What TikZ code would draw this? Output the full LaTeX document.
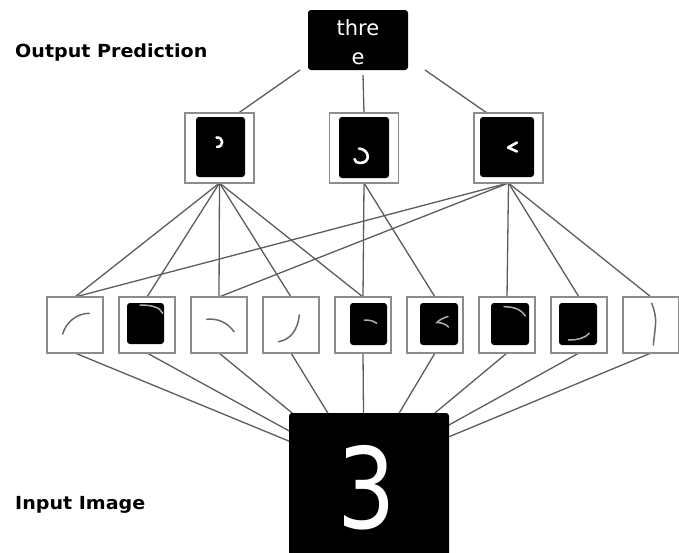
\documentclass[tikz,border=0pt]{standalone}
\usepackage{fontspec}
\setmainfont{DejaVu Sans}
\newfontfamily\lblfont[FakeStretch=1.06]{DejaVu Sans}
\begin{document}
\begin{tikzpicture}[x=1pt,y=-1pt,
  wire/.style={draw={rgb,255:red,92;green,92;blue,92},line width=1.3pt},
  cell/.style={draw={rgb,255:red,140;green,140;blue,140},line width=1.8pt,fill=white,
    minimum width=#1,minimum height=#1,inner sep=0pt,outer sep=0pt},
  blackbox/.style={fill=black,rounded corners=3pt,inner sep=0pt,outer sep=0pt},
  pen/.style={draw={rgb,255:red,105;green,105;blue,105},line width=1.5pt,line cap=round},
  lightpen/.style={draw={rgb,255:red,175;green,175;blue,175},line width=1.5pt,line cap=round},
  chalk/.style={draw=white,line width=2.6pt,line cap=round,line join=round},
  layerlabel/.style={anchor=base west,inner sep=0pt,font=\lblfont\bfseries\fontsize{18}{20}\selectfont}
]
\useasboundingbox (0,0) rectangle (679,552);

% ---- coordinates of the free ends and of the hub under the input image
\coordinate (hub) at (364,472);
\coordinate (pL) at (300,70);
\coordinate (pM) at (363,75);
\coordinate (pR) at (425,70);

% ---- cell centres
\path (219.5,148) coordinate (c1) (364,148) coordinate (c2) (508.5,148) coordinate (c3);
\foreach \i in {1,...,9}{
  \coordinate (p\i) at ({75+72*(\i-1)},325);
}

% nodes of the second layer
\node[cell=69pt,minimum height=70pt] (m1) at (c1) {};
\node[cell=69pt,minimum height=70pt] (m2) at (c2) {};
\node[cell=69pt,minimum height=70pt] (m3) at (c3) {};
% nodes of the first layer
\foreach \i in {1,...,9}{
  \node[cell=56pt] (b\i) at (p\i) {};
}

% wires between the layers
\foreach \j in {1,2,3,4,5} \draw[wire] (m1.south) -- (b\j.north);
\foreach \j in {5,6} \draw[wire] (m2.south) -- (b\j.north);
\foreach \j in {1,3,7,8,9} \draw[wire] (m3.south) -- (b\j.north);
\foreach \j in {1,...,9} \draw[wire] (b\j.south) -- (hub);

% wires to the prediction
\draw[wire] (pL) -- ([xshift=19pt]m1.north);
\draw[wire] (pM) -- (m2.north);
\draw[wire] (pR) -- ([xshift=-21.5pt]m3.north);

% redraw the cells so that the wires end on their borders
\node[cell=69pt,minimum height=70pt] at (c1) {};
\node[cell=69pt,minimum height=70pt] at (c2) {};
\node[cell=69pt,minimum height=70pt] at (c3) {};
\foreach \i in {1,...,9}{
  \node[cell=56pt] at (p\i) {};
}

% ---- second layer contents
\fill[rounded corners=3pt] (196,117) rectangle (245,177);
\fill[rounded corners=3pt] (339,117) rectangle (389,178);
\fill[rounded corners=3pt] (480,117) rectangle (534,177);
\draw[chalk] (216.5,137.5) .. controls (223.5,137) and (224.5,146.5) .. (217,147);
\draw[chalk] (359,148.5) .. controls (370,149.5) and (371,163) .. (360,163)
                         .. controls (357,163) and (355,162) .. (354.5,159);
\draw[chalk] (517,142.5) -- (508,147.5) -- (517,151.5);

% ---- first layer contents
\fill[rounded corners=3pt] (127,303) rectangle (164,344);
\fill[rounded corners=3pt] (350,303) rectangle (387,345);
\fill[rounded corners=3pt] (420,303) rectangle (458,345);
\fill[rounded corners=3pt] (491,303) rectangle (529,345);
\fill[rounded corners=3pt] (559,303) rectangle (597,345);

\draw[pen] (62.7,334) .. controls (66,322) and (77,313.3) .. (89.3,313.3);
\draw[lightpen] (140,305) .. controls (151,305) and (160,307) .. (162.7,313.3);
\draw[pen] (206.7,319.3) .. controls (218,318) and (228,323) .. (234,331.7);
\draw[pen] (299.3,315) .. controls (298,330) and (290,340) .. (278.3,341.7);
\draw[lightpen] (364.3,320) .. controls (370,320) and (374,321) .. (376.7,323.3);
\draw[lightpen] (448,316.5) .. controls (443,318) and (439,320) .. (437,322.5)
                           .. controls (441,322.5) and (446,324) .. (448.5,327);
\draw[lightpen] (504,306.7) .. controls (513,306.7) and (521,309) .. (525.3,316);
\draw[lightpen] (568.3,340) .. controls (578,340) and (585,338) .. (589.3,333.3);
\draw[pen] (651.7,303.3) .. controls (655,312) and (656,318) .. (655.5,324)
                       .. controls (655,332) and (654,338) .. (653.3,345);

% ---- prediction box
\node[blackbox,minimum width=100pt,minimum height=60pt] (pred) at (358,40) {};
\node[text=white,anchor=base,inner sep=0pt,font=\fontsize{21}{21}\selectfont] (predA) at (358,35) {thre};
\node[text=white,anchor=base,inner sep=0pt,font=\fontsize{21}{21}\selectfont] (predB) at (358,64) {e};

% ---- input image
\node[blackbox,minimum width=160pt,minimum height=150pt,anchor=north] (inp) at (369,413) {};
\node[text=white,inner sep=0pt,font=\fontsize{112}{112}\selectfont] (digit) at (367,488) {\scalebox{0.82}[1]{3}};

% ---- layer labels
\node[layerlabel] (outlbl) at (15,57) {Output Prediction};
\node[layerlabel] (inlbl) at (15,509) {Input Image};
\end{tikzpicture}
\end{document}
